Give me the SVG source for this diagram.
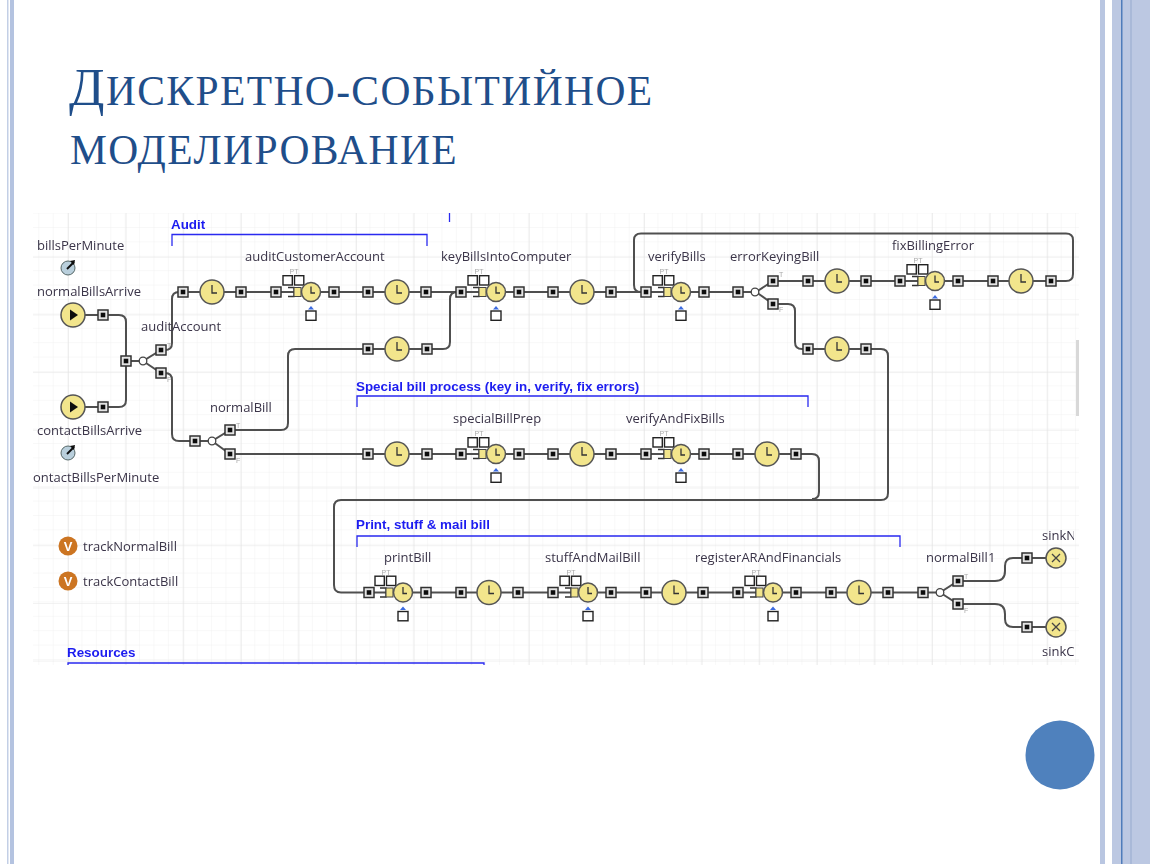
<svg xmlns="http://www.w3.org/2000/svg" width="1150" height="864" viewBox="0 0 1150 864">
<style>
.title{font-family:"Liberation Serif",serif;text-transform:uppercase;fill:#1f4e8a;letter-spacing:1.4px;font-size:41.5px}
.cap{font-size:52px}
.lbl{font-family:"Open Sans","Noto Sans",sans-serif;font-size:13px;fill:#3a3448}
.sec{font-family:"Liberation Sans",sans-serif;font-size:13.4px;font-weight:bold;fill:#1c1cf0}
.wire{fill:none;stroke:#505050;stroke-width:2}
.brk{fill:none;stroke:#2a2af0;stroke-width:1.3}
.tiny{font-family:"Liberation Sans",sans-serif;font-size:7px;fill:#aaa}
.sq{fill:#fff;stroke:#222;stroke-width:1.4}
.yel{fill:#f2e58c;stroke:#555;stroke-width:1.5}
.hand{fill:none;stroke:#333;stroke-width:1.3}
</style>
<defs>
<filter id="soft" x="0" y="0" width="100%" height="100%"><feGaussianBlur stdDeviation="0.35"/></filter>
<clipPath id="canvasClip"><rect x="33" y="213" width="1041" height="452"/></clipPath>
<pattern id="gridMinor" width="14.4" height="14.4" patternUnits="userSpaceOnUse" x="9.5" y="11">
<path d="M0 0V14.4M0 0H14.4" fill="none" stroke="#f1f1f1" stroke-width="1"/>
</pattern>
<pattern id="gridMajor" width="57.6" height="57.7" patternUnits="userSpaceOnUse" x="10.4" y="25.9">
<path d="M0 0V57.7M0 0H57.6" fill="none" stroke="#e3e3e3" stroke-width="1.2"/>
</pattern>
<g id="port"><rect x="-5" y="-5" width="10" height="10" fill="#e4e4e4" stroke="#333" stroke-width="1.5"/><rect x="-2.300" y="-2.300" width="4.600" height="4.600" fill="#111"/></g>
<g id="delay"><circle r="12" class="yel"/><path d="M0-7V1H5" class="hand"/></g>
<g id="service">
<rect x="-28" y="-16.300" width="9.300" height="9.300" class="sq"/><rect x="-16.500" y="-16.300" width="9.300" height="9.300" class="sq"/>
<text x="-17" y="-18" class="tiny" text-anchor="middle">PT</text>
<path d="M-23-4.500H-17V4.500H-23" fill="none" stroke="#333" stroke-width="1.3"/>
<rect x="-17" y="-4.500" width="7" height="9" fill="#f2e58c" stroke="#444" stroke-width="1"/>
<circle r="9.500" class="yel"/><path d="M0-5.500V1H4" class="hand"/>
<path d="M-3 17.500L0 14L3 17.500Z" fill="#3a6ae0"/>
<rect x="-5" y="19" width="10" height="9.300" class="sq"/>
</g>
<g id="start"><circle r="12" class="yel"/><path d="M-3-5.500L5 0L-3 5.500Z" fill="#111"/></g>
<g id="sink"><circle r="10" class="yel"/><path d="M-4-4L4 4M-4 4L4-4" stroke="#444" stroke-width="1.300" fill="none"/></g>
<g id="junction"><circle r="3.800" fill="#fff" stroke="#444" stroke-width="1.300"/></g>
<g id="dial"><circle r="7" fill="#b9cfdc" stroke="#566" stroke-width="1"/><path d="M-1 1L6-6" stroke="#111" stroke-width="2"/><path d="M2-7L7-8L6-3Z" fill="#111"/></g>
<g id="var"><circle r="9.500" fill="#cc7420"/><text y="4.500" text-anchor="middle" font-family="Liberation Sans,sans-serif" font-size="13" font-weight="bold" fill="#fff">V</text></g>
</defs>

<rect width="1150" height="864" fill="#fff"/>
<g id="frame">
<rect x="7" y="0" width="1.500" height="864" fill="#c3cfe6"/>
<rect x="10" y="0" width="4" height="864" fill="#b4c3e0"/>
<rect x="1100" y="0" width="5" height="864" fill="#b9c6e1"/>
<rect x="1112" y="0" width="38" height="864" fill="#bcc8e2"/>
<rect x="1121" y="0" width="1.500" height="864" fill="#4f7cba"/>
<rect x="1130" y="0" width="2" height="864" fill="#a9b9d8"/>
</g>

<g id="title">
<text class="title" x="69" y="105"><tspan class="cap">Д</tspan>искретно-событийное</text>
<text class="title" x="70" y="164">моделирование</text>
</g>

<g id="canvas">
<rect x="33" y="213" width="1046" height="452" fill="#fff"/>
<rect x="33" y="213" width="1046" height="452" fill="url(#gridMinor)"/>
<rect x="33" y="213" width="1046" height="452" fill="url(#gridMajor)"/>
<rect x="1076" y="340" width="3" height="76" fill="#d8d8d8"/>
</g>

<g clip-path="url(#canvasClip)">
<g id="diagram" filter="url(#soft)">
<g id="brackets">
<path class="brk" d="M172 246V234.500H427V246"/>
<path class="brk" d="M357 407V396H808V407"/>
<path class="brk" d="M357 547V536H900V547"/>
<path class="brk" d="M68 665V663H484V665"/>
<path class="brk" d="M449.500 213V222"/>
<text class="sec" x="171" y="229">Audit</text>
<text class="sec" x="356" y="391">Special bill process (key in, verify, fix errors)</text>
<text class="sec" x="356" y="529">Print, stuff &amp; mail bill</text>
<text class="sec" x="67" y="657">Resources</text>
</g>

<g id="connectors">
<path class="wire" d="M73 315H119Q126 315 126 322V400Q126 407 119 407H73"/>
<path class="wire" d="M126 361H143L161 350H165Q172 350 172 343V299Q172 292 179 292H738"/>
<path class="wire" d="M143 361L161 373H165Q172 373 172 380V434Q172 441 179 441H212L230 430H281Q288 430 288 423V356Q288 349 295 349H443Q450 349 450 342V299Q450 292 457 292"/>
<path class="wire" d="M212 441L230 454H812Q819 454 819 461V492Q819 499 812 499"/>
<path class="wire" d="M738 292H756L773 281H1066Q1073 281 1073 274V240Q1073 233.500 1066 233.500H641Q634 233.500 634 240V285Q634 292 641 292H645"/>
<path class="wire" d="M756 292L773 304H788Q795 304 795 311V342Q795 349 802 349H881Q888 349 888 356V493Q888 500 881 500H341Q334 500 334 507V585Q334 592.500 341 592.500H940L958 581H995Q1005 581 1005 571V566Q1005 558 1013 558H1056"/>
<path class="wire" d="M940 592.500L958 604H995Q1005 604 1005 614V619Q1005 627 1013 627H1056"/>
</g>

<g id="normalBillsArrive"><use href="#start" x="73" y="315"/><use href="#port" x="103" y="315"/><text class="lbl" x="37" y="296">normalBillsArrive</text></g>
<g id="contactBillsArrive"><use href="#start" x="73" y="407"/><use href="#port" x="103" y="407"/><text class="lbl" x="37" y="435">contactBillsArrive</text></g>
<g id="billsPerMinute"><use href="#dial" x="68" y="268"/><text class="lbl" x="37" y="250">billsPerMinute</text></g>
<g id="contactBillsPerMinute"><use href="#dial" x="68" y="453"/><text class="lbl" x="33" y="482">ontactBillsPerMinute</text></g>
<g id="trackNormalBill"><use href="#var" x="68" y="546"/><text class="lbl" x="83" y="551">trackNormalBill</text></g>
<g id="trackContactBill"><use href="#var" x="68" y="581"/><text class="lbl" x="83" y="586">trackContactBill</text></g>

<g id="auditAccount"><use href="#port" x="126" y="361"/><use href="#junction" x="143" y="361"/><use href="#port" x="161" y="350"/><use href="#port" x="161" y="373"/><text class="tiny" x="167" y="348">T</text><text class="tiny" x="167" y="382">F</text><text class="lbl" x="141" y="331">auditAccount</text></g>
<g id="normalBill"><use href="#port" x="195" y="441"/><use href="#junction" x="212" y="441"/><use href="#port" x="230" y="430"/><use href="#port" x="230" y="454"/><text class="tiny" x="236" y="428">T</text><text class="tiny" x="236" y="463">F</text><text class="lbl" x="210" y="412">normalBill</text></g>
<g id="errorKeyingBill"><use href="#port" x="738" y="292"/><use href="#junction" x="755" y="292"/><use href="#port" x="773" y="281"/><use href="#port" x="773" y="304"/><text class="tiny" x="779" y="277">T</text><text class="tiny" x="779" y="312">F</text><text class="lbl" x="730" y="261">errorKeyingBill</text></g>
<g id="normalBill1"><use href="#port" x="923" y="592.500"/><use href="#junction" x="940" y="592.500"/><use href="#port" x="958" y="581"/><use href="#port" x="958" y="604"/><text class="tiny" x="964" y="579">T</text><text class="tiny" x="964" y="613">F</text><text class="lbl" x="926" y="562">normalBill1</text></g>

<g id="audit-delay"><use href="#port" x="183" y="292"/><use href="#delay" x="212" y="292"/><use href="#port" x="241" y="292"/></g>
<g id="auditCustomerAccount"><use href="#port" x="276" y="292"/><use href="#service" x="311" y="292"/><use href="#port" x="334" y="292"/><text class="lbl" x="245" y="261">auditCustomerAccount</text></g>
<g id="audit-delay2"><use href="#port" x="368" y="292"/><use href="#delay" x="397" y="292"/><use href="#port" x="426" y="292"/></g>
<g id="keyBillsIntoComputer"><use href="#port" x="461" y="292"/><use href="#service" x="496" y="292"/><use href="#port" x="519" y="292"/><text class="lbl" x="441" y="261">keyBillsIntoComputer</text></g>
<g id="key-delay"><use href="#port" x="553" y="292"/><use href="#delay" x="582" y="292"/><use href="#port" x="611" y="292"/></g>
<g id="verifyBills"><use href="#port" x="646" y="292"/><use href="#service" x="681" y="292"/><use href="#port" x="704" y="292"/><text class="lbl" x="648" y="261">verifyBills</text></g>
<g id="error-delay"><use href="#port" x="808" y="281"/><use href="#delay" x="837" y="281"/><use href="#port" x="866" y="281"/></g>
<g id="fixBillingError"><use href="#port" x="900" y="281"/><use href="#service" x="935" y="281"/><use href="#port" x="958" y="281"/><text class="lbl" x="892" y="250">fixBillingError</text></g>
<g id="fix-delay"><use href="#port" x="993" y="281"/><use href="#delay" x="1021" y="281"/><use href="#port" x="1051" y="281"/></g>
<g id="noerror-delay"><use href="#port" x="808" y="349"/><use href="#delay" x="837" y="349"/><use href="#port" x="866" y="349"/></g>
<g id="normal-delay"><use href="#port" x="368" y="349"/><use href="#delay" x="397" y="349"/><use href="#port" x="427" y="349"/></g>

<g id="special-delay"><use href="#port" x="368" y="454"/><use href="#delay" x="397" y="454"/><use href="#port" x="427" y="454"/></g>
<g id="specialBillPrep"><use href="#port" x="461" y="454"/><use href="#service" x="496" y="454"/><use href="#port" x="519" y="454"/><text class="lbl" x="453" y="423">specialBillPrep</text></g>
<g id="special-delay2"><use href="#port" x="553" y="454"/><use href="#delay" x="582" y="454"/><use href="#port" x="611" y="454"/></g>
<g id="verifyAndFixBills"><use href="#port" x="646" y="454"/><use href="#service" x="681" y="454"/><use href="#port" x="704" y="454"/><text class="lbl" x="626" y="423">verifyAndFixBills</text></g>
<g id="verify-delay"><use href="#port" x="738" y="454"/><use href="#delay" x="767" y="454"/><use href="#port" x="796" y="454"/></g>

<g id="printBill"><use href="#port" x="369" y="592.500"/><use href="#service" x="403" y="592.500"/><use href="#port" x="426" y="592.500"/><text class="lbl" x="384" y="562">printBill</text></g>
<g id="print-delay"><use href="#port" x="461" y="592.500"/><use href="#delay" x="489" y="592.500"/><use href="#port" x="518" y="592.500"/></g>
<g id="stuffAndMailBill"><use href="#port" x="553" y="592.500"/><use href="#service" x="588" y="592.500"/><use href="#port" x="611" y="592.500"/><text class="lbl" x="545" y="562">stuffAndMailBill</text></g>
<g id="stuff-delay"><use href="#port" x="646" y="592.500"/><use href="#delay" x="674" y="592.500"/><use href="#port" x="703" y="592.500"/></g>
<g id="registerARAndFinancials"><use href="#port" x="738" y="592.500"/><use href="#service" x="773" y="592.500"/><use href="#port" x="796" y="592.500"/><text class="lbl" x="695" y="562">registerARAndFinancials</text></g>
<g id="register-delay"><use href="#port" x="831" y="592.500"/><use href="#delay" x="859" y="592.500"/><use href="#port" x="888" y="592.500"/></g>

<g id="sinkN"><use href="#port" x="1027" y="558"/><use href="#sink" x="1056" y="558"/><text class="lbl" x="1042" y="540">sinkN</text></g>
<g id="sinkC"><use href="#port" x="1027" y="627"/><use href="#sink" x="1056" y="627"/><text class="lbl" x="1042" y="656">sinkC</text></g>
</g>
</g>

<circle id="corner-dot" cx="1060" cy="755" r="34.500" fill="#4f81bd"/>
</svg>
